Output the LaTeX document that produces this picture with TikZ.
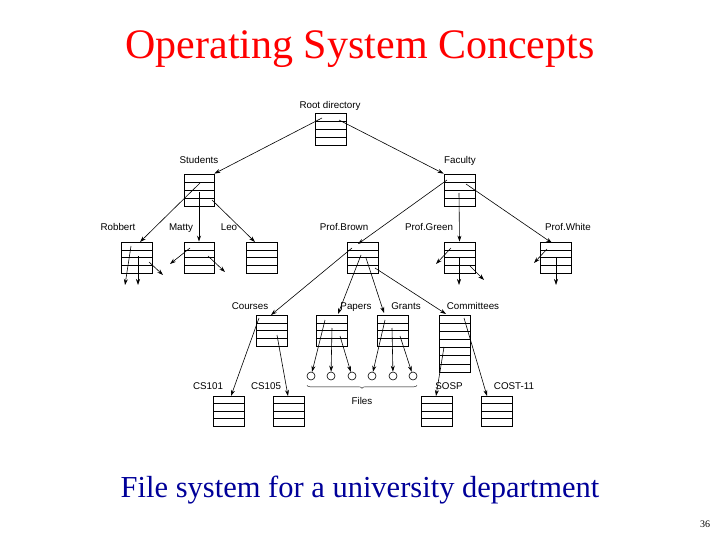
\documentclass[tikz,border=0pt]{standalone}
\usepackage{fontspec}
\setmainfont{Liberation Serif}
\newfontfamily\lsans{Liberation Sans}
\usetikzlibrary{arrows.meta,decorations.pathreplacing,calc}
\begin{document}
\begin{tikzpicture}[x=1pt,y=-1pt,
  lab/.style={font=\lsans\fontsize{9.8}{10}\selectfont,inner sep=0pt,anchor=base,yshift=-3.6pt},
  ar/.style={-{Stealth[length=6pt,width=4pt]},line width=0.6pt},
  fl/.style={circle,draw,line width=0.6pt,minimum size=8pt,inner sep=0pt}]
\useasboundingbox (0,0) rectangle (720,540);
\newcommand{\dirbox}[6]{% name x1 y1 x2 y2 rows
  \node[inner sep=0pt,minimum width={#4-#2},minimum height={#5-#3},draw,line width=0.8pt] (#1) at ({(#2+#4)/2},{(#3+#5)/2}) {};
  \foreach \i in {1,...,#6}{\draw[line width=0.5pt] (#2,{#3+(#5-#3)*\i/(#6+1)}) -- (#4,{#3+(#5-#3)*\i/(#6+1)});}}
\node[text=red,font=\fontsize{42}{46}\selectfont] (title) at (360,49) {Operating System Concepts};
\node[text=blue!60!black,font=\fontsize{30.5}{34}\selectfont] (cap) at (360,490) {File system for a university department};
\node[font=\fontsize{10}{11}\selectfont] (pg) at (705,524) {36};
\dirbox{root}{315}{113}{346}{145}{3}
\dirbox{stud}{184}{174}{214}{206}{3}
\dirbox{fac}{444}{174}{475}{206}{3}
\dirbox{rob}{121}{242}{152}{273}{3}
\dirbox{mat}{184}{242}{214}{273}{3}
\dirbox{leo}{246}{242}{277}{273}{3}
\dirbox{brown}{347}{242}{378}{273}{3}
\dirbox{green}{444}{242}{475}{273}{3}
\dirbox{white}{540}{242}{571}{273}{3}
\dirbox{courses}{256}{315}{287}{346}{3}
\dirbox{papers}{316}{315}{347}{346}{3}
\dirbox{grants}{377}{315}{408}{346}{3}
\dirbox{comm}{439}{315}{470}{372}{6}
\dirbox{cs1}{213}{396}{244}{426}{3}
\dirbox{cs5}{273}{396}{304}{426}{3}
\dirbox{sosp}{421}{396}{452}{426}{3}
\dirbox{cost}{481}{396}{512}{426}{3}
\node[lab] (lroot) at (330,105) {Root directory};
\node[lab] (lstud) at (199,160) {Students};
\node[lab] (lfac) at (460,160) {Faculty};
\node[lab] (lrob) at (118,227) {Robbert};
\node[lab] (lmat) at (181,227) {Matty};
\node[lab] (lleo) at (229,227) {Leo};
\node[lab] (lbro) at (344,227) {Prof.Brown};
\node[lab] (lgre) at (429,227) {Prof.Green};
\node[lab] (lwhi) at (568,227) {Prof.White};
\node[lab] (lcou) at (250,306) {Courses};
\node[lab] (lpap) at (356,306) {Papers};
\node[lab] (lgra) at (406,306) {Grants};
\node[lab] (lcom) at (473,306) {Committees};
\node[lab] (lcs1) at (208,386) {CS101};
\node[lab] (lcs5) at (266,386) {CS105};
\node[lab] (lsos) at (449,386) {SOSP};
\node[lab] (lcos) at (514,386) {COST-11};
\node[lab] (lfil) at (362,401) {Files};
\foreach \n/\x in {f1/311,f2/331,f3/352,f4/372,f5/393,f6/413}{\node[fl] (\n) at (\x,376) {};}
\draw[decorate,decoration={brace,mirror,amplitude=3pt},line width=0.4pt] ($(f1.south)+(-4,5)$) -- ($(f6.south)+(4,5)$);
\draw[ar] (322,118) -- (stud.north east);
\draw[ar] (339,120) -- (fac.north west);
\draw[ar] (200,183) -- (140,242);
\draw[ar,line width=1pt] (199,192) -- (mat.north);
\draw[ar] (212,200) -- (255,242);
\draw[ar] (447,180) -- (358,244);
\draw[ar] (459,193) -- (green.north);
\draw[ar] (466,184) -- (552,243);
\draw[ar] (131,246) -- (125,285);
\draw[ar] (138,256) -- (138,285);
\draw[ar] (149,262) -- (163,275);
\draw[ar] (190,248) -- (170,264);
\draw[ar] (208,256) -- (225,272);
\draw[ar] (352,248) -- (271,315);
\draw[ar] (361,255) -- (338,314);
\draw[ar] (366,258) -- (384,313);
\draw[ar] (375,268) -- (446,314);
\draw[ar] (451,248) -- (436,264);
\draw[ar] (459,258) -- (459,285);
\draw[ar] (470,266) -- (484,280);
\draw[ar] (547,249) -- (534,263);
\draw[ar] (556,258) -- (556,285);
\draw[ar] (259,318) -- (231,396);
\draw[ar] (277,335) -- (288,396);
\draw[ar] (325,320) -- (f1);
\draw[ar] (332,328) -- (f2);
\draw[ar] (340,336) -- (f3);
\draw[ar] (385,320) -- (f4);
\draw[ar] (392,328) -- (f5);
\draw[ar] (400,336) -- (f6);
\draw[ar] (444,347) -- (436,396);
\draw[ar] (464,318) -- (487,396);
\end{tikzpicture}
\end{document}
